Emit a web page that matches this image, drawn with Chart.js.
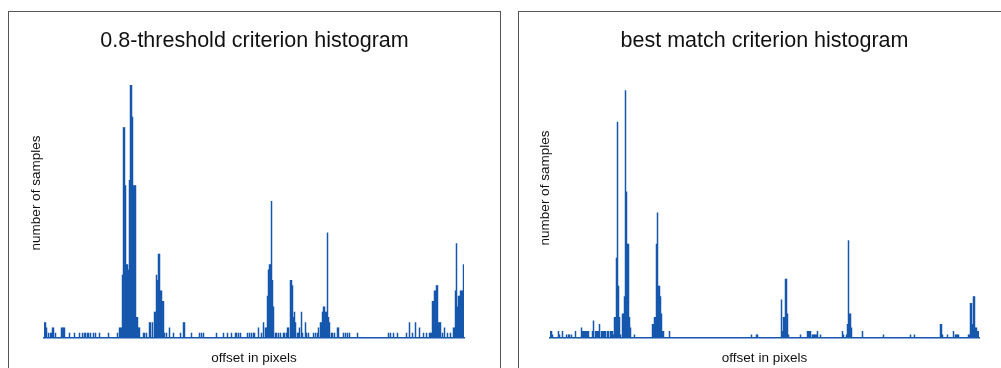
<!DOCTYPE html>
<html lang="en">
<head>
    <meta charset="UTF-8">
    <title>Criterion histograms</title>
    <style>
        body {
            margin: 0;
            background: #fff;
            width: 1001px;
            height: 368px;
            overflow: hidden;
            position: relative;
        }
        .panel {
            position: absolute;
            top: 11px;
            height: 380px;
            border: 1px solid #555;
            background: #fff;
        }
        #panel-left { left: 8px; width: 491px; }
        #panel-right { left: 518px; width: 482px; }
        canvas { display: block; }
    </style>
</head>
<body>
    <div class="panel" id="panel-left"><canvas id="leftChart" width="491" height="356"></canvas></div>
    <div class="panel" id="panel-right"><canvas id="rightChart" width="482" height="356"></canvas></div>

    <script src="https://cdn.jsdelivr.net/npm/chart.js"></script>
    <script>
        // 0.8-threshold criterion: offset bin -> number of samples
        const leftBinCount = 420;
        const leftOffsets = [0,1,2,4,6,7,8,9,11,17,18,19,20,25,30,35,38,40,41,43,44,46,49,51,55,64,73,
            75,76,77,78,79,80,81,82,83,84,85,86,87,88,89,90,91,92,93,94,95,99,100,102,105,106,108,
            110,111,112,113,114,115,116,117,118,119,120,122,125,129,136,139,140,147,155,157,159,172,
            179,183,187,191,192,194,196,203,205,207,209,210,214,217,219,221,222,223,224,225,226,227,
            228,229,231,232,234,236,239,240,242,243,244,246,247,248,249,250,251,253,254,255,257,258,
            261,262,264,269,271,273,274,276,277,278,279,280,281,282,283,284,285,287,288,290,293,294,
            299,301,303,305,313,344,346,349,353,362,365,368,371,375,379,382,385,386,387,388,389,390,
            391,392,393,394,395,396,398,400,403,406,409,410,411,412,413,414,415,416,417,418,419];
        const leftCounts = [3,3,2,1,1,1,2,2,1,2,2,2,2,1,1,1,1,1,1,1,1,1,1,1,1,1,1,
            2,2,2,12,40,40,29,14,14,13,30,48,48,42,29,29,29,4,4,2,2,1,1,1,3,3,3,
            5,5,12,11,16,16,9,9,7,7,1,1,2,1,1,3,3,1,1,1,1,1,
            1,1,1,1,1,1,1,1,1,1,1,1,2,1,3,2,2,8,13,14,14,26,
            11,6,1,1,1,1,1,1,1,2,2,11,11,10,4,5,3,1,1,2,5,1,
            3,1,1,1,1,1,2,3,3,5,6,6,5,5,20,4,3,1,1,1,2,2,
            1,1,1,1,1,1,1,1,1,1,3,1,3,2,1,1,1,1,1,7,7,9,
            9,10,10,3,3,3,1,2,1,1,2,2,9,18,6,8,8,9,9,9,14];

        // best match criterion: offset bin -> number of samples
        const rightBinCount = 429;
        const rightOffsets = [0,1,2,8,9,12,16,18,19,21,25,31,32,33,34,35,36,37,38,42,43,45,46,47,48,49,
            51,52,53,54,55,57,58,60,61,62,63,64,65,66,67,68,69,70,72,73,74,75,76,77,78,79,80,84,
            102,103,104,105,106,107,108,109,110,111,112,113,119,201,206,207,231,232,233,234,235,236,
            237,238,250,257,258,259,260,262,263,264,265,266,267,270,292,293,296,297,298,299,300,301,
            312,333,360,364,390,391,392,397,403,405,406,407,408,418,419,420,421,422,423,424,425,426,
            427,428];
        const rightCounts = [2,2,1,2,1,2,1,1,1,1,2,3,2,2,2,2,2,2,2,2,5,2,2,2,2,4,
            2,2,2,2,2,2,2,2,2,2,1,6,6,23,62,15,6,1,7,7,12,71,42,27,27,6,3,1,
            4,4,6,6,27,36,15,15,12,7,2,2,2,1,1,1,11,2,6,6,17,17,
            7,1,1,2,2,2,2,1,1,1,1,1,2,1,2,1,1,4,28,7,7,3,
            2,1,1,1,4,4,1,1,2,1,1,1,1,1,1,10,10,4,12,12,3,3,
            2,2];

        const barColor = '#1657ad';
        const textColor = '#111';
        const fontFamily = '"Liberation Sans", Arial, Helvetica, sans-serif';

        // rotated y label, placed by hand like the original figure
        const sideLabel = {
            id: 'sideLabel',
            afterDraw(chart, args, opts) {
                const ctx = chart.ctx;
                ctx.save();
                ctx.translate(opts.x, opts.y);
                ctx.rotate(-Math.PI / 2);
                ctx.font = '13.5px ' + fontFamily;
                ctx.fillStyle = textColor;
                ctx.textAlign = 'center';
                ctx.textBaseline = 'middle';
                ctx.fillText(opts.text, 0, 0);
                ctx.restore();
            }
        };

        function toBins(n, offsets, counts) {
            const values = new Array(n).fill(0);
            offsets.forEach((o, i) => { values[o] = counts[i]; });
            return values;
        }

        function makeChart(id, title, n, offsets, counts, cfg) {
            const labels = Array.from({ length: n }, (_, i) => i);
            return new Chart(document.getElementById(id), {
                type: 'bar',
                data: {
                    labels: labels,
                    datasets: [{
                        data: toBins(n, offsets, counts),
                        backgroundColor: barColor,
                        borderWidth: 0,
                        barPercentage: 1.5,   // a bit wider than a bin, like the blurred original
                        categoryPercentage: 1
                    }]
                },
                plugins: [sideLabel],
                options: {
                    responsive: false,
                    animation: false,
                    layout: { padding: { left: cfg.padLeft, right: 0, top: 0, bottom: 0 } },
                    scales: {
                        x: {
                            grid: { display: false },
                            border: { display: true, color: barColor, width: 1.5 },
                            ticks: { display: false },
                            title: {
                                display: true,
                                text: 'offset in pixels',
                                color: textColor,
                                font: { family: fontFamily, size: 13.5 },
                                padding: { top: 0, bottom: 2 }
                            },
                            afterFit: s => { s.height = 30; }
                        },
                        y: {
                            min: 0,
                            max: cfg.yMax,
                            grid: { display: false },
                            border: { display: false },
                            ticks: { display: false },
                            afterFit: s => { s.width = cfg.yWidth; }
                        },
                        y2: {
                            position: 'right',
                            display: true,
                            grid: { display: false },
                            border: { display: false },
                            ticks: { display: false },
                            afterFit: s => { s.width = cfg.rightWidth; }
                        }
                    },
                    plugins: {
                        legend: { display: false },
                        tooltip: { enabled: false },
                        title: {
                            display: true,
                            text: title,
                            color: textColor,
                            font: { family: fontFamily, size: 21.5, weight: 'normal', lineHeight: 1.2 },
                            padding: { top: 16, bottom: 26 }
                        },
                        sideLabel: { text: 'number of samples', x: cfg.labelX, y: cfg.labelY }
                    }
                }
            });
        }

        makeChart('leftChart', '0.8-threshold criterion histogram', leftBinCount, leftOffsets, leftCounts,
            { padLeft: 0, yWidth: 35, rightWidth: 36, yMax: 49, labelX: 27, labelY: 181 });
        makeChart('rightChart', 'best match criterion histogram', rightBinCount, rightOffsets, rightCounts,
            { padLeft: 9, yWidth: 22, rightWidth: 22, yMax: 74, labelX: 26, labelY: 176 });
    </script>
</body>
</html>
